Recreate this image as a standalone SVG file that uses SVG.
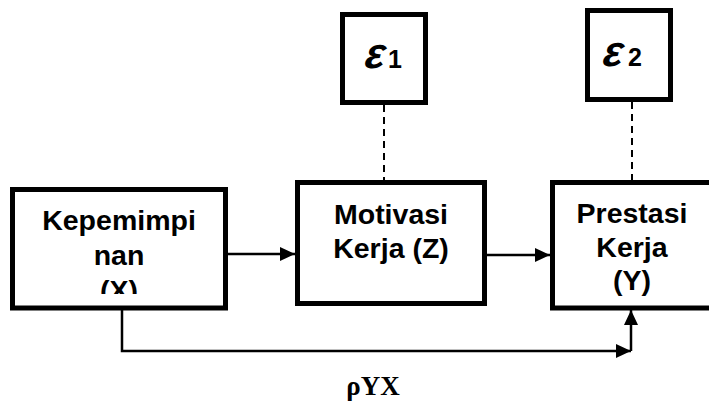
<svg xmlns="http://www.w3.org/2000/svg" width="709" height="405" viewBox="0 0 709 405">
<style>
.box{fill:#fff;stroke:#000;stroke-width:5}
.lbl{font-family:"Liberation Sans",Arial,sans-serif;font-weight:bold;font-size:28.5px;text-anchor:middle;fill:#000}
.eps{font-family:"Liberation Sans",Arial,sans-serif;font-weight:bold;font-size:43px;fill:#000}
.sub{font-family:"Liberation Sans",Arial,sans-serif;font-size:25px;font-weight:bold;fill:#000}
.line{fill:none;stroke:#000;stroke-width:2.5}
.dash{fill:none;stroke:#000;stroke-width:2;stroke-dasharray:7,5}
</style>
<defs>
<marker id="ah" markerUnits="userSpaceOnUse" markerWidth="16" markerHeight="14" refX="15" refY="7" orient="auto">
<path d="M0,0 L15,7 L0,14 Z" fill="#000"/>
</marker>
<clipPath id="clipX"><rect x="15" y="192" width="208" height="102"/></clipPath>
</defs>
<g id="connectors">
<line class="line" x1="228" y1="254" x2="295" y2="254" marker-end="url(#ah)"/>
<line class="line" x1="487" y1="255" x2="550" y2="255" marker-end="url(#ah)"/>
<polyline class="line" points="122,310 122,351 631,351" marker-end="url(#ah)"/>
<line class="line" x1="631" y1="351" x2="631" y2="310" marker-end="url(#ah)"/>
<line class="dash" x1="384" y1="105" x2="384" y2="180"/>
<line class="dash" x1="632" y1="102" x2="632" y2="180"/>
</g>
<g id="node-x">
<rect class="box" x="12.5" y="189.5" width="213" height="118.5"/>
<g clip-path="url(#clipX)">
<text class="lbl" x="119" y="230">Kepemimpi</text>
<text class="lbl" x="119" y="265">nan</text>
<text class="lbl" x="119" y="300">(X)</text>
</g>
</g>
<g id="node-z">
<rect class="box" x="297.5" y="182.5" width="187" height="121"/>
<text class="lbl" x="391" y="224">Motivasi</text>
<text class="lbl" x="391" y="258">Kerja (Z)</text>
</g>
<g id="node-y">
<rect class="box" x="552.5" y="182.5" width="170" height="125.5"/>
<text class="lbl" x="632" y="223">Prestasi</text>
<text class="lbl" x="632" y="257">Kerja</text>
<text class="lbl" x="632" y="290">(Y)</text>
</g>
<g id="node-e1">
<rect class="box" x="342.5" y="14.5" width="83" height="88"/>
<text class="eps" transform="translate(362,68) skewX(-16)">ε</text>
<text class="sub" x="388" y="68">1</text>
</g>
<g id="node-e2">
<rect class="box" x="587.5" y="10.5" width="83" height="89"/>
<text class="eps" font-size="46" transform="translate(600,66) skewX(-16)">ε</text>
<text class="sub" x="628" y="66" font-size="27">2</text>
</g>
<text x="373" y="395" font-family="'Liberation Serif','Times New Roman',serif" font-weight="bold" font-size="27" text-anchor="middle">ρYX</text>
</svg>
